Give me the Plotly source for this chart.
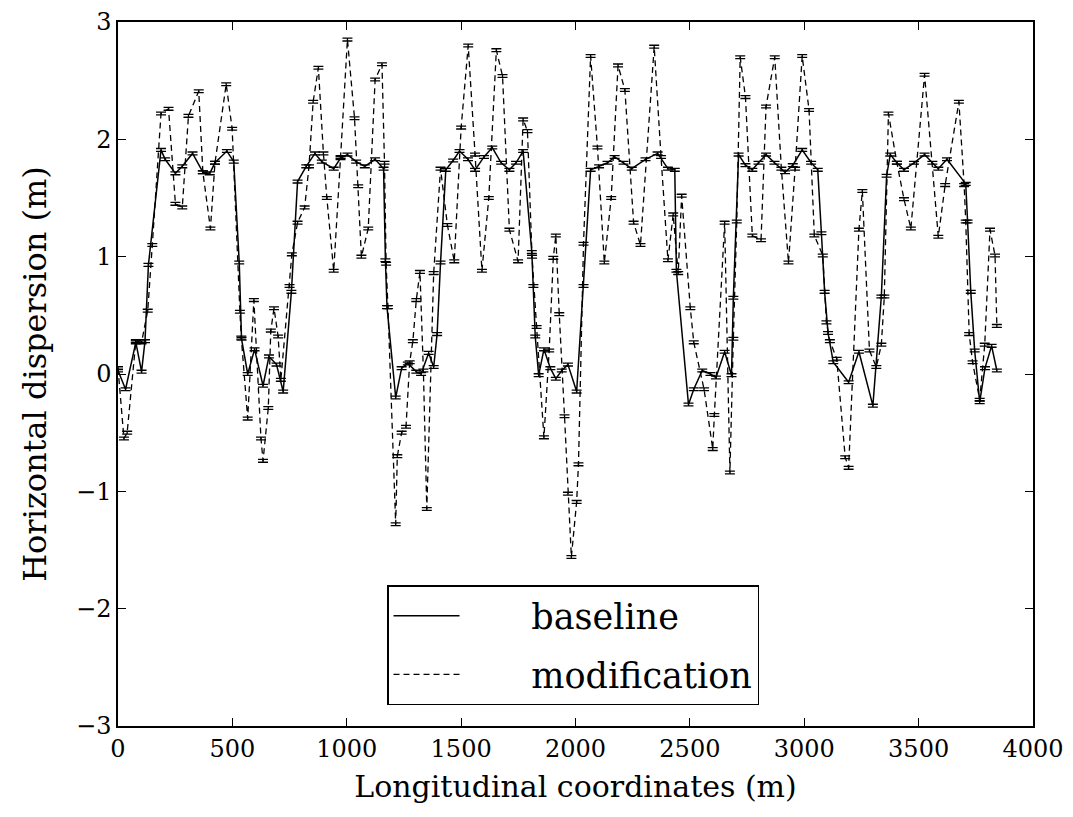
import plotly.graph_objects as go

# Baseline series
base_x = [0, 33, 78, 103, 118, 133, 188, 206, 251, 281, 326, 371, 401, 424, 476, 506,
          530, 540, 567, 597, 634, 660, 693, 722, 758, 785, 823, 861, 891, 943, 973,
          1003, 1041, 1079, 1124, 1161, 1169, 1176, 1214, 1240, 1267, 1304, 1325, 1358,
          1380, 1395, 1410, 1433, 1465, 1493, 1530, 1561, 1600, 1636, 1675, 1711, 1740,
          1771, 1809, 1816, 1824, 1839, 1862, 1890, 1914, 1940, 1967, 2005, 2035, 2066,
          2103, 2140, 2171, 2210, 2246, 2306, 2359, 2404, 2434, 2441, 2494, 2517, 2554,
          2590, 2614, 2652, 2682, 2690, 2713, 2743, 2773, 2800, 2833, 2870, 2916, 2950,
          2991, 3030, 3059, 3075, 3089, 3104, 3127, 3194, 3239, 3300, 3337, 3360, 3376,
          3405, 3436, 3480, 3526, 3560, 3586, 3624, 3706, 3714, 3728, 3745, 3767, 3790,
          3819, 3842]
base_y = [0.03, -0.13, 0.27, 0.02, 0.28, 0.93, 1.91, 1.83, 1.71, 1.77, 1.88, 1.72, 1.71,
          1.80, 1.90, 1.81, 0.95, 0.30, 0.00, 0.21, -0.10, 0.15, 0.08, -0.15, 0.70, 1.64,
          1.77, 1.88, 1.81, 1.75, 1.84, 1.87, 1.81, 1.77, 1.83, 1.75, 0.97, 0.57, -0.20,
          0.05, 0.09, 0.02, 0.00, 0.18, 0.06, 0.34, 0.95, 1.74, 1.82, 1.90, 1.83, 1.74,
          1.85, 1.93, 1.80, 1.74, 1.80, 1.90, 1.04, 0.75, 0.32, -0.01, 0.21, 0.05, -0.04,
          0.03, 0.08, -0.15, 0.75, 1.74, 1.77, 1.80, 1.85, 1.80, 1.75, 1.83, 1.88, 1.75,
          1.74, 0.88, -0.26, -0.13, 0.03, 0.00, -0.03, 0.19, -0.01, 0.65, 1.87, 1.78,
          1.74, 1.80, 1.87, 1.80, 1.72, 1.78, 1.91, 1.80, 1.74, 1.20, 0.70, 0.35, 0.10,
          -0.07, 0.19, -0.27, 0.66, 1.69, 1.87, 1.80, 1.74, 1.80, 1.87, 1.80, 1.75, 1.83,
          1.62, 1.30, 0.70, 0.20, -0.24, 0.05, 0.24, 0.03]

# Modification series
mod_x = [0, 26, 40, 78, 103, 130, 150, 188, 221, 251, 281, 308, 353, 371, 404, 424, 473,
         499, 533, 539, 567, 594, 625, 634, 657, 668, 682, 700, 712, 750, 760, 785, 816,
         835, 853, 876, 898, 913, 943, 973, 1003, 1034, 1050, 1064, 1094, 1124, 1154,
         1165, 1172, 1180, 1214, 1221, 1240, 1259, 1275, 1289, 1304, 1320, 1335, 1350,
         1380, 1410, 1440, 1470, 1500, 1531, 1561, 1591, 1621, 1654, 1681, 1711, 1749,
         1771, 1790, 1810, 1830, 1862, 1885, 1903, 1914, 1929, 1952, 1967, 1982, 2005,
         2013, 2035, 2066, 2096, 2126, 2156, 2186, 2216, 2254, 2284, 2344, 2374, 2404,
         2427, 2449, 2464, 2502, 2517, 2562, 2600, 2607, 2652, 2675, 2690, 2705, 2720,
         2743, 2773, 2811, 2833, 2871, 2900, 2931, 2960, 2991, 3021, 3044, 3081, 3097,
         3112, 3142, 3179, 3194, 3239, 3254, 3285, 3315, 3337, 3350, 3368, 3405, 3436,
         3466, 3526, 3586, 3616, 3676, 3699, 3706, 3721, 3736, 3767, 3789, 3812, 3834,
         3842]
mod_y = [0.05, -0.55, -0.50, 0.28, 0.27, 0.54, 1.10, 2.22, 2.26, 1.45, 1.42, 2.20, 2.41,
         1.72, 1.24, 1.80, 2.47, 2.09, 0.53, 0.31, -0.38, 0.63, -0.55, -0.74, -0.29, 0.37,
         0.56, 0.32, -0.05, 0.75, 1.02, 1.29, 1.42, 1.77, 2.32, 2.61, 1.88, 1.50, 0.88,
         1.85, 2.85, 2.18, 1.60, 1.00, 1.24, 2.51, 2.64, 1.80, 0.94, 0.57, -1.28, -0.70,
         -0.50, -0.45, 0.10, 0.28, 0.63, 0.87, 0.03, -1.15, 0.86, 1.75, 1.27, 0.96, 2.10,
         2.80, 1.87, 0.88, 1.50, 2.76, 2.54, 1.23, 0.96, 2.17, 2.07, 1.00, 0.40, -0.54,
         0.20, 0.99, 1.18, 0.51, -0.36, -1.02, -1.56, -1.09, -0.77, 1.11, 2.71, 1.93,
         0.95, 1.50, 2.63, 2.42, 1.29, 1.10, 2.79, 1.85, 0.97, 1.36, 0.86, 1.52, 0.56,
         0.27, -0.13, -0.64, -0.35, 1.29, -0.84, 0.30, 1.30, 2.70, 2.36, 1.18, 1.14, 2.28,
         2.70, 1.75, 0.95, 1.75, 2.71, 2.25, 1.18, 1.01, 0.44, 0.28, 0.13, -0.71, -0.80,
         1.23, 1.56, 0.20, 0.06, 0.25, 0.66, 2.22, 1.80, 1.49, 1.24, 2.55, 1.17, 1.61,
         2.32, 1.61, 1.30, 0.34, 0.10, -0.22, 0.25, 1.23, 1.01, 0.41]

err_half = 0.012
x_ticks = [0, 500, 1000, 1500, 2000, 2500, 3000, 3500, 4000]
y_ticks = [-3, -2, -1, 0, 1, 2, 3]
series_names = ["baseline", "modification"]

FONT = "DejaVu Serif"
PAD = "\u00a0" * 6  # spacing between legend symbol and label, as in the reference

fig = go.Figure()
fig.add_trace(go.Scatter(
    x=base_x, y=base_y, mode="lines", name=PAD + series_names[0], legendgroup="b",
    line=dict(color="black", width=1.5),
    error_y=dict(type="constant", value=err_half, color="black", thickness=1.3, width=5),
))
fig.add_trace(go.Scatter(
    x=mod_x, y=mod_y, mode="lines", name=PAD + series_names[1], legendgroup="m",
    line=dict(color="black", width=1.3, dash="6px,4px"),
    error_y=dict(type="constant", value=err_half, color="black", thickness=1.3, width=5),
))

axis_common = dict(
    showline=True, linecolor="black", linewidth=1.5, mirror="ticks",
    ticks="inside", ticklen=8, tickwidth=1, tickcolor="black",
    showgrid=False, zeroline=False, automargin=False, ticklabeloverflow="allow",
    tickfont=dict(family=FONT, size=24, color="black"),
)
fig.update_xaxes(range=[0, 4000], tickvals=x_ticks, ticktext=[str(v) for v in x_ticks],
                 title=dict(text="Longitudinal coordinates (m)",
                            font=dict(family=FONT, size=30, color="black"), standoff=14),
                 **axis_common)
fig.update_yaxes(range=[-3, 3], tickvals=y_ticks,
                 title=dict(text="Horizontal dispersion (m)",
                            font=dict(family=FONT, size=32, color="black"), standoff=20),
                 **axis_common)

fig.update_layout(
    width=1073, height=817,
    margin=dict(l=110, r=48, t=14, b=99, autoexpand=False),
    paper_bgcolor="white", plot_bgcolor="white",
    font=dict(family=FONT, color="black"),
    legend=dict(x=0.294, y=0.0297, xanchor="left", yanchor="bottom",
                bgcolor="white", bordercolor="black", borderwidth=1.5,
                font=dict(family=FONT, size=35, color="black"),
                itemwidth=66, tracegroupgap=10),
)

fig.write_html("out.html")
